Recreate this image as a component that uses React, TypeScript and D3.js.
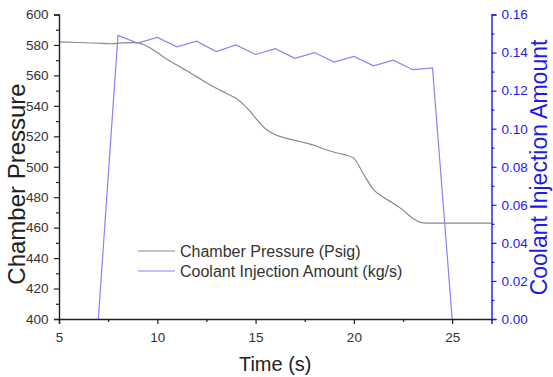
import React, { useEffect, useRef } from "react";
import * as d3 from "d3";

// chamber pressure (Psig)
const pressureTime = [5, 6, 7, 7.6, 8.5, 9, 9.5, 10, 10.5, 11, 11.5, 12, 12.5, 13, 13.5, 14, 14.5, 15, 15.5, 16, 16.5, 17, 17.5, 18, 18.5, 19, 19.5, 20, 20.5, 21, 21.5, 22, 22.5, 23, 23.5, 24, 27];
const pressureValues = [582, 581.6, 581.1, 580.8, 581.5, 581.3, 579, 575, 570.5, 566.8, 563, 559.2, 555.2, 551.5, 548.3, 545, 539.5, 532, 525, 521, 519, 517.3, 515.8, 514, 511.5, 509.5, 508, 505.5, 495, 485, 480, 476, 471.5, 466, 463.2, 463, 463];

// coolant injection (kg/s)
const coolantTime = [7, 8, 9, 10, 11, 12, 13, 14, 15, 16, 17, 18, 19, 20, 21, 22, 23, 24, 25];
const coolantValues = [0, 0.149, 0.145, 0.148, 0.143, 0.146, 0.1405, 0.144, 0.139, 0.142, 0.137, 0.14, 0.135, 0.138, 0.133, 0.136, 0.131, 0.132, 0];

const xMajor = [5, 10, 15, 20, 25];
const xMinor = [7.5, 12.5, 17.5, 22.5];
const leftMajor = [400, 420, 440, 460, 480, 500, 520, 540, 560, 580, 600];
const leftMinor = [410, 430, 450, 470, 490, 510, 530, 550, 570, 590];
const rightMajor = [0, 0.02, 0.04, 0.06, 0.08, 0.1, 0.12, 0.14, 0.16];
const rightMinor = [0.01, 0.03, 0.05, 0.07, 0.09, 0.11, 0.13, 0.15];

const legendItems = [
  { label: "Chamber Pressure (Psig)", color: "#8a8a8a" },
  { label: "Coolant Injection Amount (kg/s)", color: "#8585f5" },
];

function App() {
  const svgRef = useRef<SVGSVGElement>(null);
  const width = 553;
  const height = 377;
  const margin = { top: 14.5, right: 61.5, bottom: 58, left: 59 };
  const font = "Arial, 'Liberation Sans', sans-serif";

  useEffect(() => {
    const svg = d3.select(svgRef.current);
    svg.selectAll("*").remove();

    const x = d3.scaleLinear().domain([5, 27]).range([margin.left, width - margin.right]);
    const yL = d3.scaleLinear().domain([400, 600]).range([height - margin.bottom, margin.top]);
    const yR = d3.scaleLinear().domain([0, 0.16]).range([height - margin.bottom, margin.top]);

    const styleAxis = (g, color) => {
      g.selectAll("path").attr("stroke", color).attr("stroke-width", 1.4);
      g.selectAll("line").attr("stroke", color).attr("stroke-width", 1.2);
      g.selectAll("text").attr("fill", color).attr("font-size", 13.5).attr("font-family", font);
    };

    // --- lines ---
    const pressureLine = d3
      .line<number>()
      .x((_, i) => x(pressureTime[i]))
      .y(d => yL(d))
      .curve(d3.curveMonotoneX);
    svg
      .append("path")
      .datum(pressureValues)
      .attr("d", pressureLine)
      .attr("fill", "none")
      .attr("stroke", legendItems[0].color)
      .attr("stroke-width", 1.2);

    const coolantLine = d3
      .line<number>()
      .x((_, i) => x(coolantTime[i]))
      .y(d => yR(d));
    svg
      .append("path")
      .datum(coolantValues)
      .attr("d", coolantLine)
      .attr("fill", "none")
      .attr("stroke", legendItems[1].color)
      .attr("stroke-width", 1.2);

    // --- axes ---
    const gBottom = svg.append("g").attr("transform", `translate(0,${height - margin.bottom})`);
    gBottom.call(d3.axisBottom(x).tickValues(xMajor).tickSize(5).tickPadding(8));
    gBottom.append("g").call(d3.axisBottom(x).tickValues(xMinor).tickSize(3).tickFormat(() => "")).select("path").remove();
    styleAxis(gBottom, "#222");
    gBottom.selectAll("text").attr("fill", "#333");

    const gLeft = svg.append("g").attr("transform", `translate(${margin.left},0)`);
    gLeft.call(d3.axisLeft(yL).tickValues(leftMajor).tickSize(5).tickPadding(5.5));
    gLeft.append("g").call(d3.axisLeft(yL).tickValues(leftMinor).tickSize(3).tickFormat(() => "")).select("path").remove();
    styleAxis(gLeft, "#222");
    gLeft.selectAll("text").attr("fill", "#333");

    const gRight = svg.append("g").attr("transform", `translate(${width - margin.right},0)`);
    gRight.call(d3.axisRight(yR).tickValues(rightMajor).tickSize(5).tickPadding(5).tickFormat(d3.format(".2f")));
    gRight.append("g").call(d3.axisRight(yR).tickValues(rightMinor).tickSize(3).tickFormat(() => "")).select("path").remove();
    styleAxis(gRight, "#1c1cf0");

    // --- axis titles ---
    svg
      .append("text")
      .attr("x", (margin.left + width - margin.right) / 2)
      .attr("y", 371)
      .attr("text-anchor", "middle")
      .attr("font-family", font)
      .attr("font-size", 20)
      .attr("fill", "#222")
      .text("Time (s)");

    svg
      .append("text")
      .attr("transform", "translate(24.5,184) rotate(-90)")
      .attr("text-anchor", "middle")
      .attr("font-family", font)
      .attr("font-size", 24)
      .attr("fill", "#222")
      .text("Chamber Pressure");

    svg
      .append("text")
      .attr("transform", "translate(547,167.5) rotate(-90)")
      .attr("text-anchor", "middle")
      .attr("font-family", font)
      .attr("font-size", 23)
      .attr("fill", "#1c1cf0")
      .text("Coolant Injection Amount");

    // --- legend ---
    const legend = svg.append("g").attr("transform", "translate(138,251)");
    legendItems.forEach((item, i) => {
      const row = legend.append("g").attr("transform", `translate(0,${i * 20})`);
      row.append("line").attr("x1", 0).attr("x2", 37).attr("stroke", item.color).attr("stroke-width", 1.2);
      row
        .append("text")
        .attr("x", 42)
        .attr("y", 5.5)
        .attr("font-family", font)
        .attr("font-size", 16)
        .attr("fill", "#333")
        .text(item.label);
    });
  }, []);

  return (
    <svg
      ref={svgRef}
      width={width}
      height={height}
      style={{ position: "absolute", left: 0, top: 0, background: "#fff" }}
    ></svg>
  );
}

export default App;
